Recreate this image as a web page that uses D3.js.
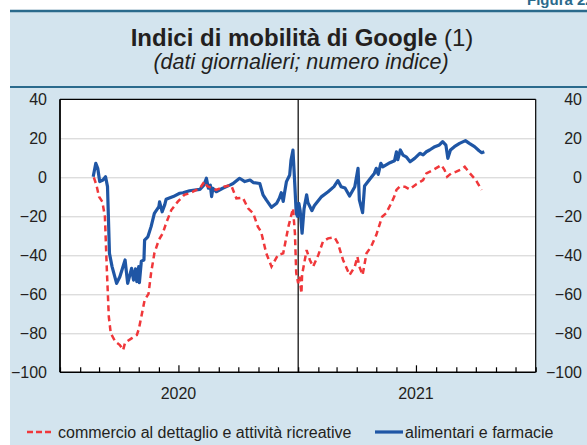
<!DOCTYPE html>
<html>
<head>
<meta charset="utf-8">
<script src="https://cdn.jsdelivr.net/npm/d3@7"></script>
<style>
  body { margin: 0; background: #fff; }
  svg { display: block; font-family: "Liberation Sans", Arial, sans-serif; }
</style>
</head>
<body>
<svg class="svg" width="587" height="445"></svg>
<script>
// dati (media mobile giornaliera, numero indice)
const retailDates = ["2020-02-22","2020-02-26","2020-03-01","2020-03-06","2020-03-10","2020-03-13","2020-03-16","2020-03-19","2020-03-26","2020-04-02","2020-04-07","2020-04-10","2020-04-20","2020-04-28","2020-05-01","2020-05-05","2020-05-10","2020-05-16","2020-05-20","2020-05-25","2020-06-01","2020-06-07","2020-06-12","2020-06-20","2020-06-30","2020-07-10","2020-07-18","2020-08-03","2020-08-10","2020-08-14","2020-08-28","2020-09-09","2020-09-20","2020-09-28","2020-10-08","2020-10-16","2020-10-24","2020-10-31","2020-11-05","2020-11-13","2020-11-21","2020-12-01","2020-12-09","2020-12-17","2020-12-24","2020-12-27","2020-12-29","2021-01-01","2021-01-03","2021-01-06","2021-01-07","2021-01-14","2021-01-19","2021-01-24","2021-02-01","2021-02-08","2021-02-16","2021-02-26","2021-03-03","2021-03-11","2021-03-21","2021-03-29","2021-04-02","2021-04-05","2021-04-10","2021-04-16","2021-04-23","2021-05-01","2021-05-10","2021-05-16","2021-05-24","2021-05-29","2021-06-01","2021-06-06","2021-06-14","2021-06-21","2021-07-02","2021-07-12","2021-07-17","2021-07-27","2021-08-09","2021-08-14","2021-08-18","2021-08-24","2021-09-01","2021-09-09","2021-09-14","2021-09-22","2021-10-01","2021-10-04","2021-10-10"];
const retailValues = [0,-4,-10,-12.5,-20,-47.5,-71.5,-80,-84.3,-86,-88.6,-84.8,-82.6,-80.9,-78,-71.5,-63,-59.8,-49,-39,-32,-28.7,-23.6,-16.8,-12.5,-9,-8.2,-5.6,-2.2,-4.5,-6.5,-4.8,-4,-10.8,-10.5,-15.9,-18.5,-25.3,-27.9,-39,-45.8,-39.8,-39,-25.3,-15.9,-28.7,-49,-54.4,-51,-59.5,-50,-37.3,-42.4,-45.8,-39.8,-33,-31.3,-30.8,-33.8,-42.4,-50.1,-45.8,-40.7,-45.8,-50.1,-39,-35.6,-29.6,-20.2,-18.5,-13.3,-9.6,-6.5,-4.8,-4.8,-6.2,-3.4,-1.4,2,3.7,6.3,3.7,0.3,2,2.9,4.1,5.4,2,-1.4,-3.1,-6.5];

const groceryDates = ["2020-02-21","2020-02-25","2020-02-28","2020-03-02","2020-03-07","2020-03-11","2020-03-14","2020-03-17","2020-03-21","2020-03-28","2020-04-02","2020-04-10","2020-04-14","2020-04-20","2020-04-23","2020-04-26","2020-04-28","2020-05-01","2020-05-02","2020-05-05","2020-05-09","2020-05-10","2020-05-15","2020-05-20","2020-05-25","2020-06-01","2020-06-02","2020-06-06","2020-06-10","2020-06-12","2020-06-23","2020-07-03","2020-07-08","2020-07-18","2020-08-03","2020-08-09","2020-08-13","2020-08-16","2020-08-19","2020-08-21","2020-08-23","2020-08-28","2020-09-07","2020-09-18","2020-09-23","2020-10-03","2020-10-11","2020-10-19","2020-10-24","2020-11-03","2020-11-08","2020-11-13","2020-11-21","2020-11-29","2020-12-03","2020-12-06","2020-12-09","2020-12-11","2020-12-14","2020-12-19","2020-12-21","2020-12-24","2020-12-27","2020-12-29","2020-12-31","2021-01-02","2021-01-04","2021-01-07","2021-01-10","2021-01-14","2021-01-16","2021-01-19","2021-01-22","2021-01-26","2021-02-06","2021-02-16","2021-02-25","2021-03-03","2021-03-08","2021-03-14","2021-03-21","2021-03-29","2021-04-03","2021-04-05","2021-04-10","2021-04-13","2021-04-24","2021-04-28","2021-05-01","2021-05-04","2021-05-08","2021-05-11","2021-05-22","2021-05-29","2021-06-01","2021-06-03","2021-06-07","2021-06-11","2021-06-16","2021-06-22","2021-06-29","2021-07-07","2021-07-12","2021-07-17","2021-07-22","2021-07-30","2021-08-06","2021-08-11","2021-08-16","2021-08-19","2021-08-23","2021-08-29","2021-09-06","2021-09-15","2021-09-21","2021-09-29","2021-10-06","2021-10-10","2021-10-14"];
const groceryValues = [0.3,7.2,4.6,-2.2,-1.4,0.3,-4.8,-39,-45.8,-54.4,-51,-42.4,-54.4,-46.7,-52.7,-47,-53.5,-45.8,-54,-43,-42.4,-32.2,-30.5,-25.3,-18.5,-15,-12.6,-17.7,-14,-11.3,-9.9,-8.2,-7.9,-6.9,-6.2,-4,-0.5,-5.6,-4,-9.9,-5.6,-7.4,-5.6,-4,-3.2,-0.5,-2.2,-1.4,-2.7,-3.2,-9,-11.6,-15.4,-13.3,-10.8,-7.9,-12.4,-8,-2.2,1.2,8.9,14,-5,-18.5,-20,-13.3,-17,-28.7,-16.2,-9,-13,-15,-17.1,-14.5,-9.9,-7.4,-4.8,-1.7,-4.8,-5.5,-9.6,-4.8,4.6,-11.6,-18.1,-4.5,0.3,2,4.6,1.5,7.2,5.4,7.5,8.5,13.1,9,14,11.4,10.5,8,9.7,12.3,11.5,13.1,14,15.7,16.6,18.3,16.5,9.7,14,15.7,17.4,18.8,17.4,15.7,13.6,12.6,13.1];

const yTicks = [-100, -80, -60, -40, -20, 0, 20, 40];
const yearLabels = ["2020", "2021"];
const legendLabels = ["commercio al dettaglio e attività ricreative", "alimentari e farmacie"];

const parse = d3.timeParse("%Y-%m-%d");
const retail = retailDates.map((d, i) => ({ date: parse(d), value: retailValues[i] }));
const grocery = groceryDates.map((d, i) => ({ date: parse(d), value: groceryValues[i] }));

const svg = d3.select(".svg");
const pLeft = 60, pRight = 535.7, pTop = 99.3, pBottom = 372.3;
const textColor = "#231f20";
const darkBlue = "#2a6a8c";

// fondo e intestazione
svg.append("rect").attr("x", 10).attr("y", 11).attr("width", 577).attr("height", 434).attr("fill", "#d3e4ee");
svg.append("line").attr("x1", 10).attr("x2", 587).attr("y1", 11).attr("y2", 11).attr("stroke", darkBlue).attr("stroke-width", 2.5);
svg.append("line").attr("x1", 10).attr("x2", 587).attr("y1", 87).attr("y2", 87).attr("stroke", darkBlue).attr("stroke-width", 2);
svg.append("text").text("Figura 22").attr("x", 527).attr("y", 5).attr("fill", darkBlue)
  .attr("font-weight", "bold").attr("font-size", 15);

const title = svg.append("text").attr("x", 302).attr("y", 46).attr("text-anchor", "middle")
  .attr("fill", textColor).attr("font-size", 24);
title.append("tspan").text("Indici di mobilità di Google").attr("font-weight", "bold");
title.append("tspan").text(" (1)");
svg.append("text").text("(dati giornalieri; numero indice)").attr("x", 301).attr("y", 69)
  .attr("text-anchor", "middle").attr("font-style", "italic").attr("font-size", 21.5).attr("fill", textColor);

// scale
const x = d3.scaleTime().domain([new Date(2020, 0, 1), new Date(2022, 0, 1)]).range([pLeft, pRight]);
const y = d3.scaleLinear().domain([-100, 40]).range([pBottom, pTop]);

svg.append("rect").attr("x", pLeft).attr("y", pTop).attr("width", pRight - pLeft).attr("height", pBottom - pTop).attr("fill", "#fff");

// griglia
svg.append("g").attr("transform", `translate(${pLeft},0)`)
  .call(d3.axisLeft(y).tickValues(yTicks.filter(d => d > -100 && d < 40)).tickSize(-(pRight - pLeft)).tickFormat(""))
  .call(g => g.select(".domain").remove())
  .call(g => g.selectAll("line").attr("stroke", "#cfcfcf").attr("stroke-width", 1));

// etichette asse y
svg.append("g").attr("transform", `translate(${pLeft},0)`)
  .call(d3.axisLeft(y).tickValues(yTicks).tickSize(0).tickPadding(13))
  .call(g => g.select(".domain").remove())
  .call(g => g.selectAll("text").attr("font-size", 16).attr("fill", textColor).attr("font-family", null));
svg.append("g").attr("transform", "translate(582,0)")
  .call(d3.axisLeft(y).tickValues(yTicks).tickSize(0).tickPadding(0))
  .call(g => g.select(".domain").remove())
  .call(g => g.selectAll("text").attr("font-size", 16).attr("fill", textColor).attr("font-family", null));

// separatore anno
svg.append("line").attr("x1", x(new Date(2021, 0, 1))).attr("x2", x(new Date(2021, 0, 1)))
  .attr("y1", pTop).attr("y2", pBottom).attr("stroke", "#000").attr("stroke-width", 1.2);

// linee
const line = d3.line().x(d => x(d.date)).y(d => y(d.value)).curve(d3.curveLinear);
svg.append("path").datum(grocery).attr("d", line).attr("fill", "none")
  .attr("stroke", "#1f56a5").attr("stroke-width", 3.2).attr("stroke-linejoin", "round");
svg.append("path").datum(retail).attr("d", line).attr("fill", "none")
  .attr("stroke", "#f0373a").attr("stroke-width", 2.5).attr("stroke-dasharray", "6,4");

// asse x con tacche mensili
svg.append("g").attr("transform", `translate(0,${pBottom})`)
  .call(d3.axisBottom(x).ticks(d3.timeMonth.every(1)).tickSize(-5).tickFormat(""))
  .call(g => g.select(".domain").remove())
  .call(g => g.selectAll(".tick line").attr("stroke", "#000").attr("stroke-width", 1.2)
    .attr("y2", d => d.getMonth() === 6 ? -7 : -5));

svg.selectAll(".year").data(yearLabels).enter().append("text")
  .attr("x", d => x(new Date(+d, 6, 1))).attr("y", 399).attr("text-anchor", "middle")
  .attr("font-size", 16).attr("fill", textColor).text(d => d);

// cornice
svg.append("line").attr("x1", pLeft).attr("x2", pRight).attr("y1", pTop).attr("y2", pTop).attr("stroke", "#000").attr("stroke-width", 1.2);
svg.append("line").attr("x1", pRight).attr("x2", pRight).attr("y1", pTop).attr("y2", pBottom).attr("stroke", "#000").attr("stroke-width", 1.2);
svg.append("line").attr("x1", pLeft).attr("x2", pLeft).attr("y1", pTop).attr("y2", pBottom).attr("stroke", "#000").attr("stroke-width", 1.8);
svg.append("line").attr("x1", pLeft).attr("x2", pRight).attr("y1", pBottom).attr("y2", pBottom).attr("stroke", "#000").attr("stroke-width", 1.5);

// legenda
const lg = svg.append("g");
lg.append("line").attr("x1", 27).attr("x2", 53).attr("y1", 432).attr("y2", 432)
  .attr("stroke", "#f0373a").attr("stroke-width", 2.5).attr("stroke-dasharray", "6,3");
lg.append("text").text(legendLabels[0]).attr("x", 58).attr("y", 438).attr("font-size", 16).attr("fill", textColor);
lg.append("line").attr("x1", 375).attr("x2", 403).attr("y1", 432).attr("y2", 432)
  .attr("stroke", "#1f56a5").attr("stroke-width", 3.2);
lg.append("text").text(legendLabels[1]).attr("x", 405).attr("y", 438).attr("font-size", 16).attr("fill", textColor);
</script>
</body>
</html>
